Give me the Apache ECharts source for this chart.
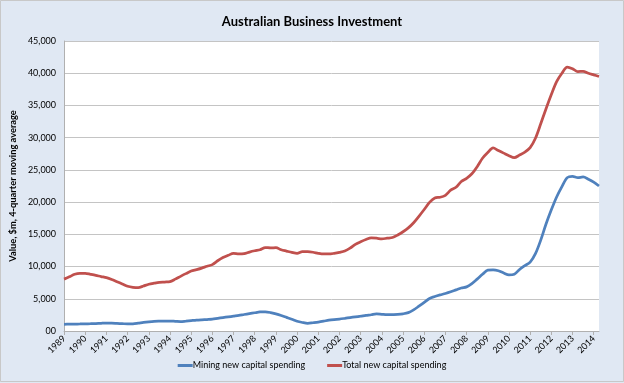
<!DOCTYPE html>
<html>
<head>
<meta charset="utf-8">
<script src="https://cdn.jsdelivr.net/npm/echarts@6/dist/echarts.min.js"></script>
<style>
html,body{margin:0;padding:0;background:#E0E8F3;}
#c{width:624px;height:383px;}
</style>
</head>
<body>
<div id="c"></div>
<script>
const years = ["1989","1990","1991","1992","1993","1994","1995","1996","1997","1998","1999","2000","2001","2002","2003","2004","2005","2006","2007","2008","2009","2010","2011","2012","2013","2014"];
const quarters = ["Q1","Q2","Q3","Q4"];
const yTickLabels = ["00","5,000","10,000","15,000","20,000","25,000","30,000","35,000","40,000","45,000"];

const mining = [1040,1060,1080,1090,1110,1130,1160,1200,1230,1220,1180,1140,1100,1120,1220,1330,1420,1490,1520,1540,1540,1500,1460,1530,1610,1690,1740,1780,1830,1960,2080,2190,2300,2410,2560,2700,2830,2950,2980,2860,2650,2400,2110,1820,1510,1320,1190,1280,1380,1520,1680,1780,1850,1960,2080,2190,2300,2420,2520,2640,2580,2530,2550,2580,2670,2850,3280,3850,4450,5050,5350,5600,5820,6080,6380,6680,6850,7350,8050,8800,9450,9480,9350,9000,8700,8800,9550,10150,10700,12000,14100,16600,18800,20800,22400,23800,24000,23800,23900,23550,23100,22500];

const total = [8050,8400,8800,8950,8950,8800,8640,8450,8280,8000,7650,7300,6950,6780,6720,6980,7250,7420,7560,7600,7650,8050,8480,8900,9300,9520,9760,10050,10300,10900,11400,11750,12050,11950,12000,12250,12450,12600,12950,12900,12930,12600,12400,12200,12050,12300,12300,12220,12050,11950,11950,12050,12200,12400,12850,13450,13850,14200,14450,14400,14280,14400,14500,14900,15400,16000,16800,17800,18850,19950,20650,20750,21050,21850,22300,23200,23700,24400,25500,26800,27700,28400,28000,27600,27200,26900,27300,27750,28450,29900,32150,34500,36700,38700,40000,40950,40700,40250,40300,40000,39750,39500];

const categories = [];
years.forEach(y => quarters.forEach(q => categories.push(y + " " + q)));
categories.length = total.length;

const chart = echarts.init(document.getElementById('c'), null, {renderer: 'canvas'});
const FONT = 'Lato, "Open Sans", sans-serif';
chart.setOption({
  backgroundColor: '#E0E8F3',
  animation: false,
  title: {
    text: 'Australian Business Investment',
    left: 'center',
    top: 10,
    textStyle: {fontFamily: FONT, fontSize: 13, fontWeight: 'bold', color: '#000'}
  },
  legend: {
    bottom: 8,
    left: 'center',
    itemWidth: 15,
    itemHeight: 3,
    itemGap: 22,
    icon: 'rect',
    textStyle: {fontFamily: FONT, fontSize: 9, color: '#000', padding: [0,0,0,-5]},
    data: ['Mining new capital spending', 'Total new capital spending']
  },
  grid: {left: 60, right: 25, top: 41, bottom: 52, show: true, backgroundColor: '#fff', borderWidth: 0},
  xAxis: {
    type: 'category',
    data: categories,
    boundaryGap: false,
    axisLine: {lineStyle: {color: '#B0B0B0', width: 1}},
    axisTick: {show: true, length: 4, interval: (i) => i % 4 === 0, lineStyle: {color: '#B0B0B0'}},
    axisLabel: {
      interval: (i) => i % 4 === 0,
      rotate: 45,
      margin: 6,
      fontFamily: FONT, fontSize: 9, color: '#000',
      formatter: (v) => v.split(' ')[0]
    },
    splitLine: {show: false}
  },
  yAxis: {
    type: 'value',
    min: 0, max: 45000, interval: 5000,
    name: 'Value, $m, 4-quarter moving average',
    nameLocation: 'middle',
    nameGap: 41,
    nameRotate: 90,
    nameTextStyle: {fontFamily: FONT, fontSize: 9.3, fontWeight: 'bold', color: '#000'},
    axisLine: {show: true, lineStyle: {color: '#B0B0B0', width: 1}},
    axisTick: {show: false},
    axisLabel: {
      margin: 8, fontFamily: FONT, fontSize: 9, color: '#000',
      formatter: (v) => yTickLabels[Math.round(v / 5000)]
    },
    splitLine: {lineStyle: {color: '#C4C4C4', width: 1}}
  },
  series: [
    {name: 'Mining new capital spending', type: 'line', data: mining, symbol: 'none', smooth: 0.3,
     lineStyle: {color: '#4F81BD', width: 2.75}, itemStyle: {color: '#4F81BD'}},
    {name: 'Total new capital spending', type: 'line', data: total, symbol: 'none', smooth: 0.3,
     lineStyle: {color: '#C0504D', width: 2.75}, itemStyle: {color: '#C0504D'}}
  ],
  graphic: [{
    type: 'rect', silent: true, z: 100,
    shape: {x: 0.5, y: 0.5, width: 623, height: 381},
    style: {fill: 'none', stroke: '#C8C8C8', lineWidth: 1}
  }]
});
</script>
</body>
</html>
